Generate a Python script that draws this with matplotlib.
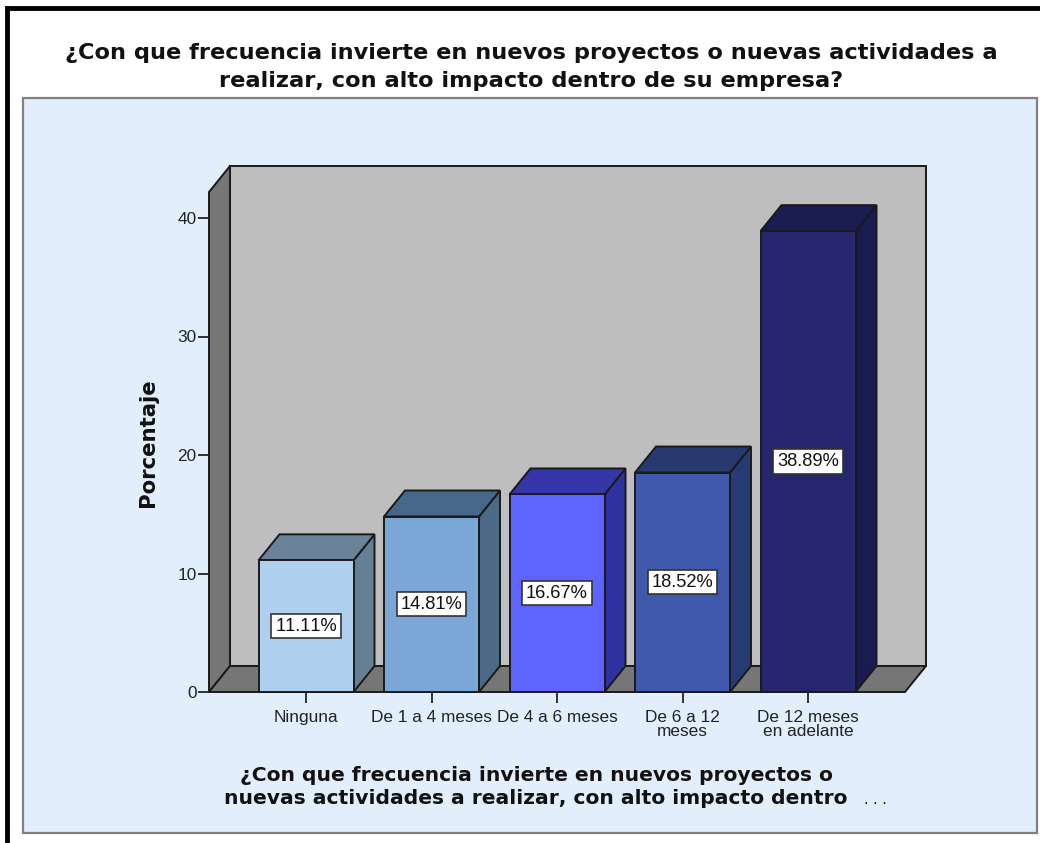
import matplotlib
matplotlib.use('Agg')
import matplotlib.pyplot as plt
from matplotlib.patches import Rectangle

plt.rcParams['font.family'] = ['Liberation Sans', 'DejaVu Sans']
plt.rcParams['text.kerning_factor'] = 6

# Datos
categorias = ['Ninguna', 'De 1 a 4 meses', 'De 4 a 6 meses', 'De 6 a 12\nmeses', 'De 12 meses\nen adelante']
valores = [11.11, 14.81, 16.67, 18.52, 38.89]
colores = ['#AED0EE', '#7BA7D6', '#5F63FF', '#3F5AAD', '#26276F']
colores_lado = ['#647F96', '#4A6A88', '#2F31A0', '#263A73', '#1A1B50']
colores_techo = ['#6A8399', '#46688A', '#3537A8', '#28396F', '#1B1C52']
yticks = [0, 10, 20, 30, 40]

titulo = '¿Con que frecuencia invierte en nuevos proyectos o nuevas actividades a\nrealizar, con alto impacto dentro de su empresa?'
xlabel_txt = '¿Con que frecuencia invierte en nuevos proyectos o\nnuevas actividades a realizar, con alto impacto dentro'

W, H = 1040, 843
fig = plt.figure(figsize=(W / 100, H / 100), dpi=100, facecolor='white')


def fx(x):
    return x / W


def fy(y):
    return 1 - y / H


# Marco negro y panel azul
fig.add_artist(Rectangle((fx(7), fy(H + 10)), fx(W + 20), (H + 2) / H, transform=fig.transFigure,
                         fill=False, ec='black', lw=3.5, zorder=-5))
fig.add_artist(Rectangle((fx(22.5), fy(832.5)), (1036.5 - 22.5) / W, (832.5 - 98) / H, transform=fig.transFigure,
                         fc='#E2EEFB', ec='#808080', lw=1.6, zorder=-4))

# Ejes: 125.5 px por categoria, 11.85 px por unidad
x0, x1 = 209, 905
y_bottom, y_top = 692, 192
ax = fig.add_axes([fx(x0), fy(y_bottom), (x1 - x0) / W, (y_bottom - y_top) / H])
ax.set_xlim((x0 - 306) / 125.5, (x1 - 306) / 125.5)
ax.set_ylim(0, (y_bottom - y_top) / 11.85)
ax.patch.set_visible(False)

dx = 21 / 125.5
dy = 26 / 11.85
xa, xb = ax.get_xlim()
ya, yb = ax.get_ylim()
borde = dict(ec='#1a1a1a', lw=1.4, joinstyle='miter')

# Paredes y piso
ax.fill([xa + dx, xb + dx, xb + dx, xa + dx], [ya + dy, ya + dy, yb + dy, yb + dy], fc='#BEBEBE', clip_on=False, **borde)
ax.fill([xa, xa + dx, xa + dx, xa], [ya, ya + dy, yb + dy, yb], fc='#767676', clip_on=False, **borde)
ax.fill([xa, xb, xb + dx, xa + dx], [ya, ya, ya + dy, ya + dy], fc='#767676', clip_on=False, **borde)

# Barras
ancho = 95 / 125.5
for i, v in enumerate(valores):
    l, r = i - ancho / 2, i + ancho / 2
    ax.fill([r, r + dx, r + dx, r], [0, dy, v + dy, v], fc=colores_lado[i], clip_on=False, zorder=3, **borde)
    ax.fill([l, r, r + dx, l + dx], [v, v, v + dy, v + dy], fc=colores_techo[i], clip_on=False, zorder=3, **borde)
    ax.bar(i, v, width=ancho, color=colores[i], zorder=4, clip_on=False, edgecolor='#1a1a1a', linewidth=1.4)
    ax.text(i, v / 2, f'{v:.2f}%', ha='center', va='center', fontsize=13.2, color='#111111', zorder=5,
            bbox=dict(boxstyle='square,pad=0.2', fc='white', ec='#333333', lw=1.2))

# Ejes y etiquetas
for s in ax.spines.values():
    s.set_visible(False)
ax.set_xticks(range(len(categorias)))
ax.set_xticklabels(categorias, fontsize=12.4, color='#222222', linespacing=0.9)
ax.set_yticks(yticks)
ax.tick_params(axis='y', length=8, width=1.3, labelsize=12.4, pad=1, color='#222222', labelcolor='#222222')
ax.tick_params(axis='x', length=8, width=1.3, pad=5, color='#222222')

fig.text(fx(531.5), fy(67), titulo, ha='center', va='center', fontsize=16.2, fontweight='bold', color='#111111',
         family='DejaVu Sans', linespacing=1.45)
fig.text(fx(148), fy(443), 'Porcentaje', rotation=90, ha='center', va='center', fontsize=15.3, fontweight='bold', color='#111111',
         family='DejaVu Sans')
fig.text(fx(536), fy(787), xlabel_txt, ha='center', va='center', fontsize=14.6, fontweight='bold', color='#111111',
         family='DejaVu Sans', linespacing=1.3)
fig.text(fx(875), fy(800), '. . .', ha='center', va='center', fontsize=12, color='#111111')

fig.savefig('out.png', dpi=100)
